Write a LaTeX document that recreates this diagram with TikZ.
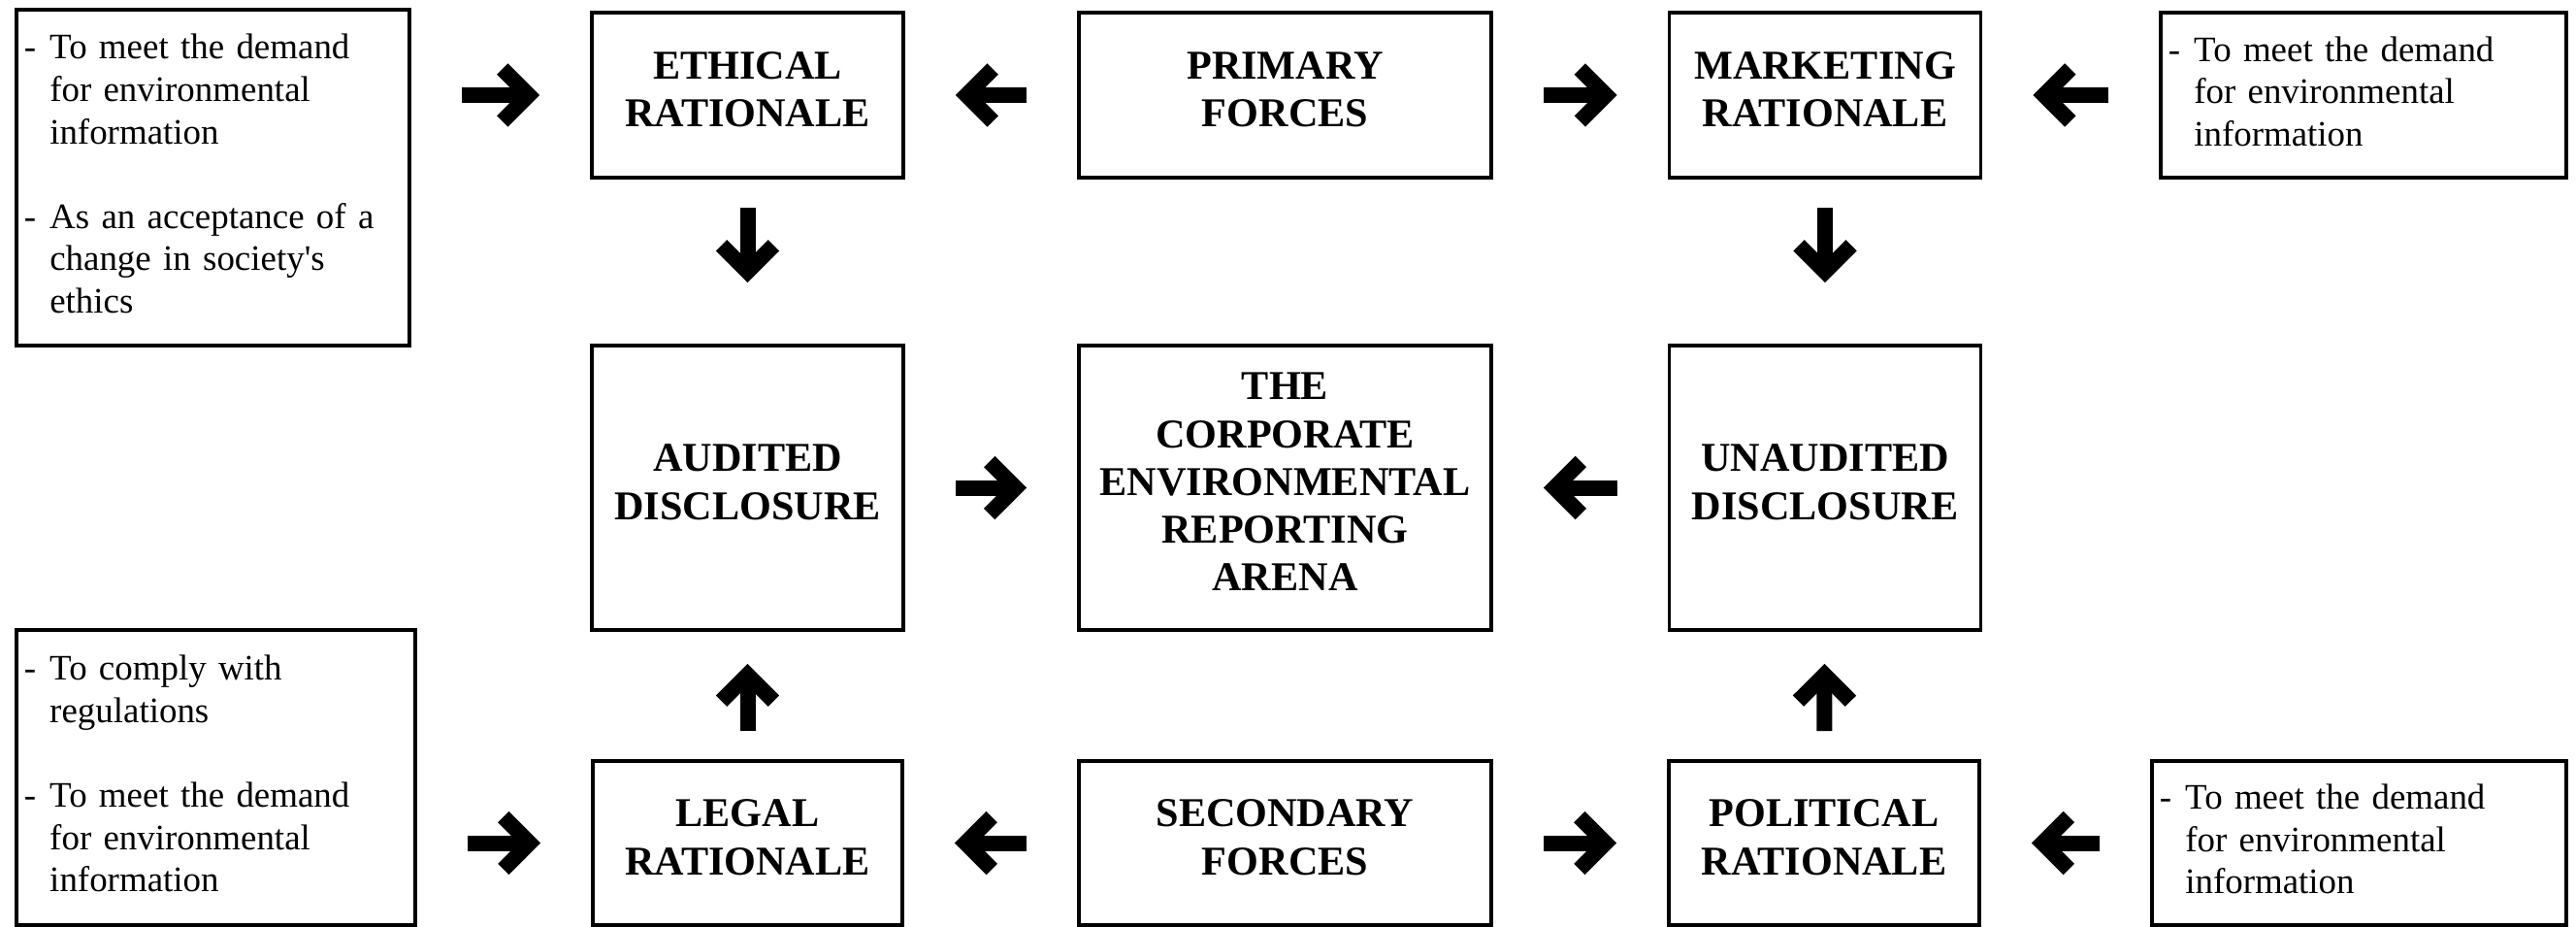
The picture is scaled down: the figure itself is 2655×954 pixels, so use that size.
\documentclass[tikz,border=0pt]{standalone}
\usepackage{fontspec}
\setmainfont{Liberation Serif}
\usetikzlibrary{arrows.meta}
\begin{document}
\begin{tikzpicture}[x=0.01cm,y=-0.01cm,
  rat/.style={draw,line width=1pt,align=center,font=\bfseries\fontsize{12}{14}\selectfont,text depth=0.12cm,minimum width=3.21cm,minimum height=1.70cm},
  force/.style={rat,minimum width=4.25cm},
  disc/.style={rat,minimum height=2.93cm},
  note/.style={draw,line width=1pt,align=left,inner xsep=0.08cm,font=\fontsize{10.5}{12.4}\selectfont},
  blk/.style={line width=0.16cm,-{Straight Barb[length=0.27cm,width=0.54cm]},shorten <=0.52cm,shorten >=0.52cm}]
 \useasboundingbox (0,0) rectangle (2655,954);
 \node[note,text width=3.89cm,minimum height=3.46cm] (ethtext) at (219.5,183) {\begin{tabular}{@{}l@{\hspace{4pt}}l@{}}
  -&To meet the demand\\
  &for environmental\\
  &information\\
  &\\
  -&As an acceptance of a\\
  &change in society\textquotesingle s\\
  &ethics
 \end{tabular}};
 \node[rat] (eth) at (770.5,98) {ETHICAL\\RATIONALE};
 \node[force] (prim) at (1324.5,98) {PRIMARY\\FORCES};
 \node[rat] (mkt) at (1881,98) {MARKETING\\RATIONALE};
 \node[note,text width=4.02cm,minimum height=1.70cm] (mkttext) at (2436,98) {\begin{tabular}{@{}l@{\hspace{4pt}}l@{}}
  -&To meet the demand\\
  &for environmental\\
  &information
 \end{tabular}};
 \node[disc] (aud) at (770.5,502.5) {AUDITED\\DISCLOSURE};
 \node[disc,minimum width=4.25cm] (arena) at (1324.5,502.5) {THE\\CORPORATE\\ENVIRONMENTAL\\REPORTING\\ARENA};
 \node[disc] (unaud) at (1881,502.5) {UNAUDITED\\DISCLOSURE};
 \node[note,text width=3.95cm,minimum height=3.04cm] (legtext) at (222.5,801) {\begin{tabular}{@{}l@{\hspace{4pt}}l@{}}
  -&To comply with\\
  &regulations\\
  &\\
  -&To meet the demand\\
  &for environmental\\
  &information
 \end{tabular}};
 \node[rat,minimum width=3.19cm,minimum height=1.69cm] (legal) at (770.5,868.5) {LEGAL\\RATIONALE};
 \node[force,minimum height=1.69cm] (sec) at (1324.5,868.5) {SECONDARY\\FORCES};
 \node[rat,minimum width=3.20cm,minimum height=1.69cm] (pol) at (1880,868.5) {POLITICAL\\RATIONALE};
 \node[note,text width=4.11cm,minimum height=1.69cm] (poltext) at (2431.5,868.5) {\begin{tabular}{@{}l@{\hspace{4pt}}l@{}}
  -&To meet the demand\\
  &for environmental\\
  &information
 \end{tabular}};
 \draw[blk] (ethtext.east |- eth) -- (eth);
 \draw[blk] (prim) -- (eth);
 \draw[blk] (prim) -- (mkt);
 \draw[blk] (mkttext) -- (mkt);
 \draw[blk,shorten <=0.29cm,shorten >=0.63cm] (eth) -- (aud);
 \draw[blk,shorten <=0.29cm,shorten >=0.63cm] (mkt) -- (unaud);
 \draw[blk] (aud) -- (arena);
 \draw[blk] (unaud) -- (arena);
 \draw[blk,shorten <=0.29cm,shorten >=0.33cm] (legal) -- (aud);
 \draw[blk,shorten <=0.29cm,shorten >=0.33cm] (pol) -- (unaud);
 \draw[blk] (legtext.east |- legal) -- (legal);
 \draw[blk] (sec) -- (legal);
 \draw[blk] (sec) -- (pol);
 \draw[blk] (poltext) -- (pol);
\end{tikzpicture}
\end{document}
